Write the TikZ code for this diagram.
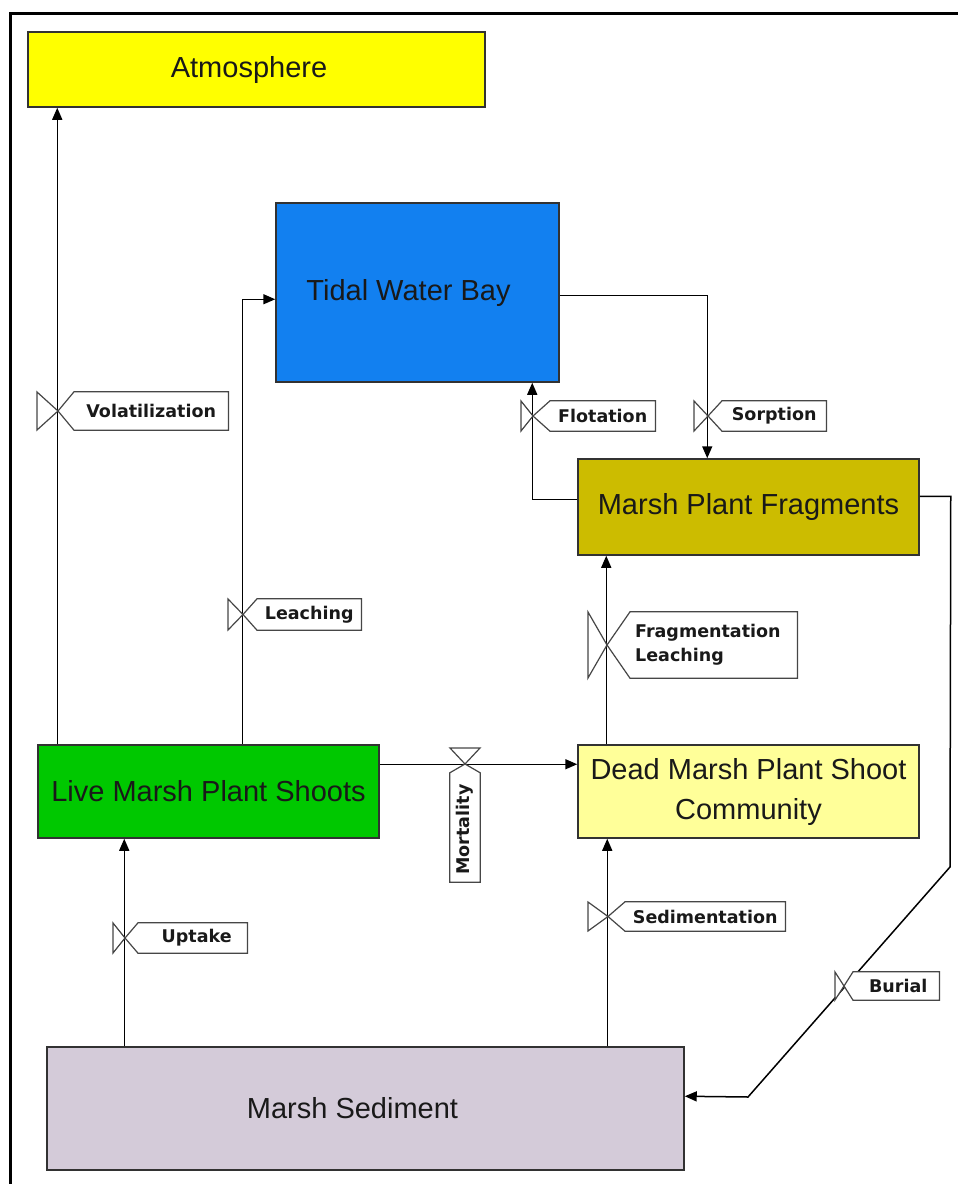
\documentclass[tikz,border=0pt]{standalone}
\usepackage{fontspec}
\setmainfont{Liberation Sans}
\newfontfamily\lblfont{DejaVu Sans}
\usetikzlibrary{arrows.meta,calc}
\definecolor{atmcol}{RGB}{255,255,0}
\definecolor{tidalcol}{RGB}{18,128,240}
\definecolor{fragcol}{RGB}{204,188,0}
\definecolor{livecol}{RGB}{0,200,0}
\definecolor{deadcol}{RGB}{255,255,153}
\definecolor{sedcol}{RGB}{212,203,217}
\definecolor{edgecol}{RGB}{50,50,50}
\definecolor{valvecol}{RGB}{70,70,70}
\tikzset{
  box/.style={draw=edgecol, line width=1.5pt, inner sep=0pt, align=center,
    font=\fontsize{29}{40}\selectfont, text=black!90},
  flow/.style={draw=black, line width=1.5pt, -{Triangle[length=12pt,width=10pt]}},
  lbl/.style={inner sep=0pt, align=left, font=\lblfont\bfseries\fontsize{17.5}{24}\selectfont, text=black!90},
  valve/.style={draw=valvecol, line width=1.2pt, line join=miter, fill=white}
}
\begin{document}
\begin{tikzpicture}[x=1pt,y=-1pt]
\useasboundingbox (0,0) rectangle (958,1184);
% frame
\coordinate (frTR) at (958,13);
\coordinate (frTL) at (10,13);
\coordinate (frBL) at (10,1184);
\draw[line width=3pt] (frTR) -- (frTL) -- (frBL);

% boxes
\node[box, fill=atmcol, minimum width=457pt, minimum height=75pt] (atm) at (256.5,69.5) {Atmosphere\hspace*{15pt}};
\node[box, fill=tidalcol, minimum width=283pt, minimum height=179pt] (tidal) at (417.5,292.5) {Tidal Water Bay\hspace*{18pt}};
\node[box, fill=fragcol, minimum width=341pt, minimum height=96pt] (frag) at (748.5,507) {Marsh Plant Fragments};
\node[box, fill=livecol, minimum width=341pt, minimum height=93pt] (live) at (208.5,791.5) {Live Marsh Plant Shoots};
\node[box, fill=deadcol, minimum width=341pt, minimum height=93pt] (dead) at (748.5,791.5) {Dead Marsh Plant Shoot\\Community};
\node[box, fill=sedcol, minimum width=637pt, minimum height=123pt] (sed) at (365.5,1108.5) {Marsh Sediment\hspace*{26pt}};

% connector anchor points
\coordinate (volA) at ($(live.north west)+(20,0)$);
\coordinate (leaA) at ($(live.north west)+(205,0)$);
\coordinate (leaB) at ($(tidal.north west)+(0,97)$);
\coordinate (floA) at ($(frag.north west)+(0,41)$);
\coordinate (floB) at ($(tidal.south west)+(257,0)$);
\coordinate (sorA) at ($(tidal.north east)+(0,93)$);
\coordinate (sorB) at ($(frag.north west)+(130,0)$);
\coordinate (fraA) at ($(dead.north west)+(29,0)$);
\coordinate (morA) at ($(live.north east)+(0,20)$);
\coordinate (uptA) at ($(sed.north west)+(78,0)$);
\coordinate (sedA) at ($(sed.north west)+(561,0)$);
\coordinate (burA) at ($(frag.north east)+(0,38)$);
\coordinate (burB) at ($(burA)+(31,0)$);
\coordinate (burC) at (950,867);
\coordinate (burD) at (748,1097);
\coordinate (burE) at ($(sed.north east)+(0,50)$);

% connectors
\draw[flow] (volA) -- (volA |- atm.south);
\draw[flow] (leaA) |- (leaB);
\draw[flow] (floA) -| (floB);
\draw[flow] (sorA) -| (sorB);
\draw[flow] (fraA) -- (fraA |- frag.south);
\draw[flow] (morA) -- (morA -| dead.west);
\draw[flow] (uptA) -- (uptA |- live.south);
\draw[flow] (sedA) -- (sedA |- dead.south);
\draw[flow] (burA) -- (burB) -- (burC) -- (burD) -- (burE);

% Volatilization
\coordinate (volC) at (58,411);
\node[lbl, minimum width=154pt, minimum height=38pt, anchor=west] (vol) at (74,411) {};
\draw[valve] (volC) -- (vol.north west) -- (vol.north east) -- (vol.south east) -- (vol.south west) -- cycle;
\draw[valve] (volC) -- ++(-21,-19) -- ++(0,38) -- cycle;
\node[lbl] (volT) at (vol.center) {Volatilization};

% Leaching
\coordinate (leaC) at (243,614.5);
\node[lbl, minimum width=104pt, minimum height=31pt, anchor=west] (lea) at (257,614.5) {};
\draw[valve] (leaC) -- (lea.north west) -- (lea.north east) -- (lea.south east) -- (lea.south west) -- cycle;
\draw[valve] (leaC) -- ++(-15,-15.5) -- ++(0,31) -- cycle;
\node[lbl] (leaT) at (lea.center) {Leaching};

% Flotation
\coordinate (floC) at (533,416);
\node[lbl, minimum width=105pt, minimum height=30pt, anchor=west] (flo) at (550,416) {};
\draw[valve] (floC) -- (flo.north west) -- (flo.north east) -- (flo.south east) -- (flo.south west) -- cycle;
\draw[valve] (floC) -- ++(-12,-15) -- ++(0,30) -- cycle;
\node[lbl] (floT) at (flo.center) {Flotation};

% Sorption
\coordinate (sorC) at (708,416);
\node[lbl, minimum width=104pt, minimum height=30pt, anchor=west] (sor) at (722,416) {};
\draw[valve] (sorC) -- (sor.north west) -- (sor.north east) -- (sor.south east) -- (sor.south west) -- cycle;
\draw[valve] (sorC) -- ++(-14,-15) -- ++(0,30) -- cycle;
\node[lbl] (sorT) at (sor.center) {Sorption};

% Fragmentation Leaching
\coordinate (fraC) at (607,645);
\node[lbl, minimum width=167pt, minimum height=66pt, anchor=west] (fra) at (630,645) {};
\draw[valve] (fraC) -- (fra.north west) -- (fra.north east) -- (fra.south east) -- (fra.south west) -- cycle;
\draw[valve] (fraC) -- ++(-19,-33) -- ++(0,66) -- cycle;
\node[lbl, anchor=west] (fraT) at ($(fra.west)+(5,0)$) {Fragmentation\\Leaching};

% Uptake
\coordinate (uptC) at (125,938);
\node[lbl, minimum width=109pt, minimum height=30pt, anchor=west] (upt) at (138,938) {};
\draw[valve] (uptC) -- (upt.north west) -- (upt.north east) -- (upt.south east) -- (upt.south west) -- cycle;
\draw[valve] (uptC) -- ++(-12,-15) -- ++(0,30) -- cycle;
\node[lbl] (uptT) at ($(upt.center)+(4,0)$) {Uptake};

% Sedimentation
\coordinate (sedC) at (608,916.5);
\node[lbl, minimum width=160pt, minimum height=29pt, anchor=west] (sdm) at (625,916.5) {};
\draw[valve] (sedC) -- (sdm.north west) -- (sdm.north east) -- (sdm.south east) -- (sdm.south west) -- cycle;
\draw[valve] (sedC) -- ++(-20,-14.5) -- ++(0,29) -- cycle;
\node[lbl] (sdmT) at (sdm.center) {Sedimentation};

% Burial
\coordinate (burCv) at (844,986);
\node[lbl, minimum width=86pt, minimum height=28pt, anchor=west] (bur) at (853,986) {};
\draw[valve] (burCv) -- (bur.north west) -- (bur.north east) -- (bur.south east) -- (bur.south west) -- cycle;
\draw[valve] (burCv) -- ++(-9,-14) -- ++(0,28) -- cycle;
\node[lbl] (burT) at ($(bur.center)+(2,0)$) {Burial};

% Mortality (horizontal line, label below, rotated)
\coordinate (morC) at (465,764);
\node[lbl, rotate=90, minimum width=109pt, minimum height=30pt] (mor) at (465,827.5) {};
\draw[valve] (morC) -- (mor.south east) -- (mor.south west) -- (mor.north west) -- (mor.north east) -- cycle;
\draw[valve] (morC) -- ++(-15,-16) -- ++(30,0) -- cycle;
\node[lbl, rotate=90] (morT) at ($(mor.center)+(0,2)$) {Mortality};
\end{tikzpicture}
\end{document}
